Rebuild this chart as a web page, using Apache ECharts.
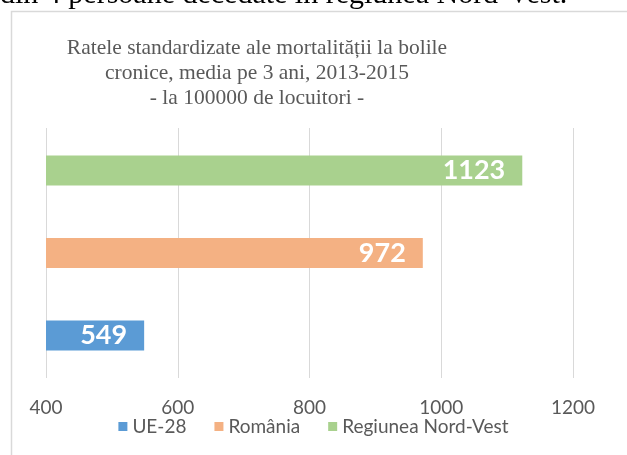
<!DOCTYPE html>
<html>
<head>
<meta charset="utf-8">
<script src="https://cdn.jsdelivr.net/npm/echarts@6/dist/echarts.min.js"></script>
<style>
  html, body { margin: 0; padding: 0; background: #fff; }
  #main { width: 627px; height: 455px; }
</style>
</head>
<body>
<div id="main"></div>
<script>
// data
var categories = [''];
var seriesNames = ['UE-28', 'România', 'Regiunea Nord-Vest'];
var seriesValues = [[549], [972], [1123]];
var seriesColors = ['#5b9bd5', '#f4b183', '#a9d18e'];
var xTicks = { min: 400, max: 1200, interval: 200 };

var titleLines = [
  'Ratele standardizate ale mortalității la bolile',
  'cronice, media pe 3 ani, 2013-2015',
  '- la 100000 de locuitori -'
];
var pageText = 'din 4 persoane decedate în regiunea Nord-Vest.';

var chart = echarts.init(document.getElementById('main'));

// ECharts stacks horizontal bars top-down in series order, so add them reversed
var series = [];
for (var i = seriesNames.length - 1; i >= 0; i--) {
  series.push({
    name: seriesNames[i],
    type: 'bar',
    data: seriesValues[i],
    barWidth: 30,
    barGap: '175%',
    itemStyle: { color: seriesColors[i] },
    label: {
      show: true,
      position: 'insideRight',
      distance: 17,
      color: '#fff',
      fontFamily: 'Lato',
      fontWeight: 'bold',
      fontSize: 27
    }
  });
}

var option = {
  animation: false,
  backgroundColor: '#fff',
  graphic: [
    {
      type: 'text',
      left: 0, top: -20,
      style: { text: pageText, font: '30px "Liberation Serif"', fill: '#000' }
    },
    {
      type: 'rect',
      shape: { x: 11.5, y: 11.5, width: 700, height: 500 },
      style: { fill: 'none', stroke: '#d9d9d9', lineWidth: 1.5 }
    },
    {
      type: 'text',
      x: 257, y: 36,
      style: {
        text: titleLines.join('\n'),
        font: '21.5px "Liberation Serif"',
        lineHeight: 25,
        fill: '#595959',
        align: 'center'
      }
    }
  ],
  legend: {
    data: seriesNames,
    bottom: 14,
    left: 'center',
    itemWidth: 9,
    itemHeight: 9,
    itemGap: 28,
    icon: 'rect',
    textStyle: { color: '#595959', fontFamily: 'Lato', fontSize: 19 }
  },
  grid: { left: 46, right: 54, top: 128, bottom: 77 },
  xAxis: {
    type: 'value',
    min: xTicks.min,
    max: xTicks.max,
    interval: xTicks.interval,
    axisLine: { show: false },
    axisTick: { show: false },
    splitLine: { lineStyle: { color: '#d9d9d9', width: 1 } },
    axisLabel: {
      color: '#595959', fontFamily: 'Lato', fontSize: 19, margin: 20,
      formatter: function (v) { return String(v); }
    }
  },
  yAxis: {
    type: 'category',
    data: categories,
    axisLine: { show: false },
    axisTick: { show: false },
    axisLabel: { show: false }
  },
  series: series
};

chart.setOption(option);
</script>
</body>
</html>
